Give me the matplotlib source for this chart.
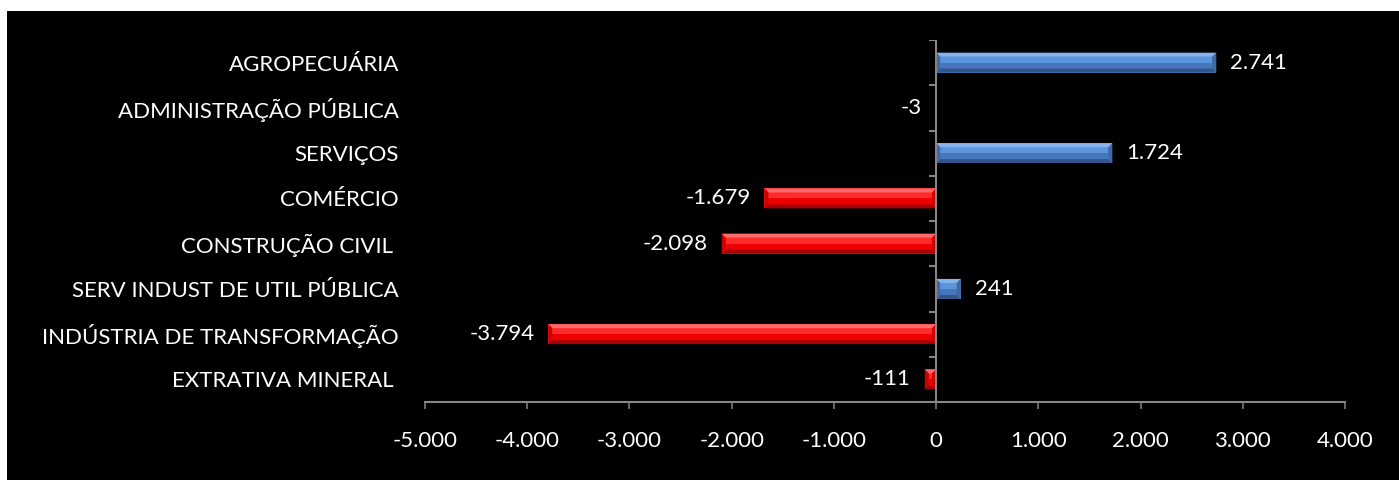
import matplotlib
matplotlib.use("Agg")
import matplotlib.pyplot as plt
from matplotlib.patches import Rectangle, Polygon
import numpy as np

plt.rcParams['font.family'] = ['Lato', 'DejaVu Sans']

categories = [
    "AGROPECUÁRIA",
    "ADMINISTRAÇÃO PÚBLICA",
    "SERVIÇOS",
    "COMÉRCIO",
    "CONSTRUÇÃO CIVIL ",
    "SERV INDUST DE UTIL PÚBLICA",
    "INDÚSTRIA DE TRANSFORMAÇÃO",
    "EXTRATIVA MINERAL ",
]
values = [2741, -3, 1724, -1679, -2098, 241, -3794, -111]
x_ticks = [-5000, -4000, -3000, -2000, -1000, 0, 1000, 2000, 3000, 4000]

BLUE = dict(base="#4f81bd", top="#86b3ee", upper="#5d95dc", lower="#4777bb",
            bottom="#33568a", side="#3f69a3")
RED = dict(base="#ff1010", top="#ff6a6a", upper="#ff2a2a", lower="#ee0000",
           bottom="#a80000", side="#cc0000")
AXIS = "#868686"
FS = 16


def fmt(v):
    s = f"{abs(v):,}".replace(",", ".")
    return ("-" if v < 0 else "") + s


fig = plt.figure(figsize=(13.99, 4.8), dpi=100, facecolor="white")
fig.add_artist(Rectangle((7 / 1399, 0), 1, 1 - 11 / 480, transform=fig.transFigure,
                         facecolor="black", edgecolor="none", zorder=-10))
ax = fig.add_axes([425 / 1399, 1 - 402 / 480, 920 / 1399, 362 / 480])
ax.set_facecolor("none")

pos = np.arange(len(categories))
h = 0.22
ax.set_xlim(x_ticks[0], x_ticks[-1])
ax.set_ylim(len(categories) - 0.5, -0.5)

# base bars
cols = [BLUE if v >= 0 else RED for v in values]
ax.barh(pos, values, height=2 * h, color=[c["base"] for c in cols], zorder=2)

# bevel facets computed from each bar's extent
ux = (x_ticks[-1] - x_ticks[0]) / 920.0  # data units per pixel (x)
uy = len(categories) / 362.0             # data units per pixel (y)
for c, v, pal in zip(pos, values, cols):
    left, right = min(0, v), max(0, v)
    w = right - left
    dx = min(4 * ux, w / 2)
    dy = min(4 * uy, h)
    t, b = c - h, c + h
    facets = [
        ([(left + dx, t + dy), (right - dx, t + dy), (right - dx, c), (left + dx, c)], pal["upper"]),
        ([(left + dx, c), (right - dx, c), (right - dx, b - dy), (left + dx, b - dy)], pal["lower"]),
        ([(left, t), (right, t), (right - dx, t + dy), (left + dx, t + dy)], pal["top"]),
        ([(left, b), (right, b), (right - dx, b - dy), (left + dx, b - dy)], pal["bottom"]),
        ([(left, t), (left + dx, t + dy), (left + dx, b - dy), (left, b)], pal["side"]),
        ([(right, t), (right - dx, t + dy), (right - dx, b - dy), (right, b)], pal["side"]),
    ]
    for pts, col in facets:
        ax.add_patch(Polygon(pts, closed=True, facecolor=col, edgecolor="none", zorder=3))

# value labels
gap = 14 * ux
for c, v in zip(pos, values):
    if v >= 0:
        ax.text(v + gap, c, fmt(v), ha="left", va="center", color="white", fontsize=FS)
    else:
        ax.text(v - gap, c, fmt(v), ha="right", va="center", color="white", fontsize=FS)

# vertical axis at zero with category tick marks
ax.axvline(0, color=AXIS, lw=1.5, zorder=4)
bounds = np.arange(len(categories) + 1) - 0.5
ax.hlines(bounds, -7 * ux, 0, color=AXIS, lw=1.5, zorder=4)

# category labels at the left of the plot area
ax.set_yticks(pos)
ax.set_yticklabels(categories, color="white", fontsize=FS)
ax.tick_params(axis="y", length=0, pad=18.7)

ax.set_xticks(x_ticks)
ax.set_xticklabels([fmt(t) for t in x_ticks], color="white", fontsize=FS)
ax.tick_params(axis="x", direction="out", length=5, width=1.1, color=AXIS, pad=16)

for side in ["top", "right", "left"]:
    ax.spines[side].set_visible(False)
ax.spines["bottom"].set_color(AXIS)
ax.spines["bottom"].set_linewidth(1.5)

fig.savefig("out.png", dpi=100, facecolor="white")
